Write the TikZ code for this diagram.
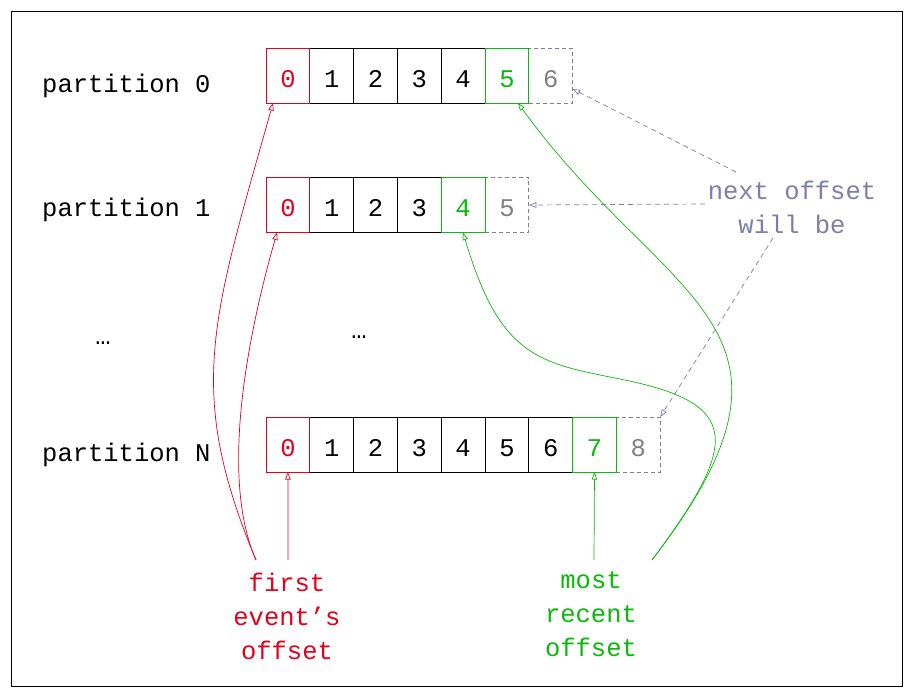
\documentclass[tikz,border=0pt]{standalone}
\usepackage{fontspec}
\newfontfamily\monof[RawFeature=+zero]{Liberation Mono}
\usetikzlibrary{arrows.meta}
\definecolor{myred}{RGB}{228,0,27}
\definecolor{mygreen}{RGB}{10,185,10}
\definecolor{mypurple}{RGB}{125,125,172}
\definecolor{mygray}{RGB}{128,128,128}
\tikzset{
  every node/.style={font=\monof\fontsize{25.5}{34}\selectfont},
  cell/.style={draw, minimum width=43.8pt, minimum height=55pt, inner sep=0pt, outer sep=0pt,
    text height=23.5pt, text depth=0pt, line width=0.9pt},
  redcell/.style={cell, draw=myred, text=myred},
  greencell/.style={cell, draw=mygreen, text=mygreen},
  nextcell/.style={cell, draw=mypurple, text=mygray, dash pattern=on 4pt off 3pt},
  arr/.style={-{Triangle[open, length=7.5pt, width=5.5pt]}, line width=0.7pt},
  dsh/.style={dash pattern=on 5pt off 4pt},
  lbl/.style={anchor=base west, inner sep=0pt},
}
\begin{document}
\begin{tikzpicture}[x=1pt, y=-1pt]
\useasboundingbox (0,0) rectangle (913,697);
\draw[line width=0.8pt] (11,11) rectangle (902,686);

% partition labels
\node[lbl] (p0) at (42,92) {partition 0};
\node[lbl] (p1) at (42,216) {partition 1};
\node[lbl] (pn) at (42,461) {partition N};
\node[anchor=base, inner sep=0pt] (dots1) at (103,344) {…};
\node[anchor=base, inner sep=0pt] (dots2) at (359,338) {…};

% row 0
\foreach \i in {1,...,4} \node[cell] (a\i) at ({266+43.8*(\i+0.5)},75.5) {\i};
\node[nextcell] (a6) at ({266+43.8*6.5},75.5) {6};
\node[redcell] (a0) at ({266+43.8*0.5},75.5) {0};
\node[greencell] (a5) at ({266+43.8*5.5},75.5) {5};

% row 1
\foreach \i in {1,...,3} \node[cell] (b\i) at ({266+43.8*(\i+0.5)},205) {\i};
\node[nextcell] (b5) at ({266+43.8*5.5},205) {5};
\node[redcell] (b0) at ({266+43.8*0.5},205) {0};
\node[greencell] (b4) at ({266+43.8*4.5},205) {4};

% row N
\foreach \i in {1,...,6} \node[cell] (n\i) at ({266+43.8*(\i+0.5)},444.5) {\i};
\node[nextcell] (n8) at ({266+43.8*8.5},444.5) {8};
\node[redcell] (n0) at ({266+43.8*0.5},444.5) {0};
\node[greencell] (n7) at ({266+43.8*7.5},444.5) {7};

% captions (base = last line)
\node[anchor=base, align=center, text=myred, inner sep=0pt] (first) at (287,659) {first\\event’s\\offset};
\node[anchor=base, align=center, text=mygreen, inner sep=0pt] (recent) at (591,656) {most\\recent\\offset};
\node[anchor=base, align=center, text=mypurple, inner sep=0pt] (next) at (792,233) {next offset\\will be};

% connector ends
\coordinate (fe1) at (256,560);
\coordinate (fe2) at (288,560);
\coordinate (mr1) at (594,560);
\coordinate (mr2) at (652,560);
\coordinate (nx1) at (736,172);
\coordinate (nx2) at (705,204);
\coordinate (nx3) at (773,238);

% red connectors
\draw[arr, myred] (fe1) .. controls (185,390) and (212,320) .. ([xshift=7pt]a0.south west);
\draw[arr, myred] (fe1) .. controls (225,490) and (238,370) .. ([xshift=11pt]b0.south west);
\draw[arr, myred] (fe2) -- (n0.south);

% green connectors
\draw[arr, mygreen] (mr1) -- (n7.south);
\draw[arr, mygreen] (mr2) .. controls (835,323) and (665,306) .. ([xshift=11pt]a5.south);
\draw[arr, mygreen] (mr2) .. controls (742,440) and (740,403) .. (620,379)
   .. controls (540,363) and (500,358) .. (b4.south);

% next offset connectors
\draw[arr, mypurple, dsh] (nx1) -- ([yshift=-13.5pt]a6.east);
\draw[arr, mypurple, dsh] (nx2) -- (b5.east);
\draw[arr, mypurple, dsh] (nx3) -- (n8.north east);
\end{tikzpicture}
\end{document}
